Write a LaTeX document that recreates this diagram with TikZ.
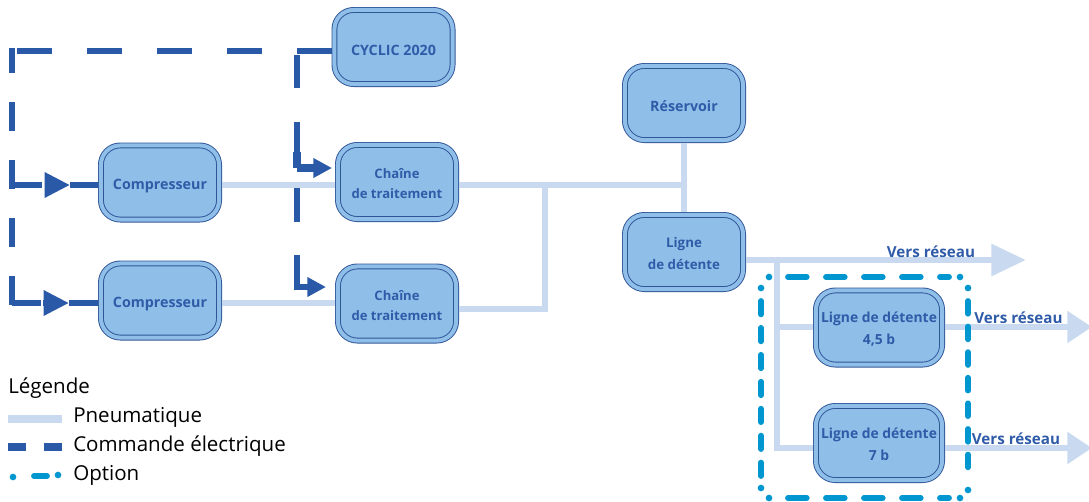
\documentclass[tikz,border=0pt]{standalone}
\usepackage{fontspec}
\setmainfont{Open Sans}
\usetikzlibrary{arrows.meta,calc}
\definecolor{pneu}{HTML}{C9DAF0}
\definecolor{elec}{HTML}{2A59A8}
\definecolor{opt}{HTML}{0096D0}
\definecolor{boxfill}{HTML}{8FBFE8}
\definecolor{boxline}{HTML}{2F5597}
\definecolor{boxtext}{HTML}{2F5BA8}
\newcommand\twoL[2]{\rule{0pt}{21.8pt}\renewcommand\arraystretch{1.05}\begin{tabular}{@{}c@{}}#1\\#2\end{tabular}}
\tikzset{
  unit/.style={draw=boxline,line width=0.7pt,double=boxfill,double distance=3pt,fill=boxfill,
    rounded corners=14.5pt,outer sep=2.2pt,minimum width=88.6pt,minimum height=55.6pt,inner sep=0pt,
    text=boxtext,font=\fontsize{10.7}{14.6}\selectfont\bfseries,
    execute at begin node={\rule{0pt}{13pt}}},
  chainunit/.style={unit,font=\fontsize{9.8}{14.4}\selectfont\bfseries},
  detunit/.style={unit,font=\fontsize{10}{15.6}\selectfont\bfseries},
  wideunit/.style={unit,minimum width=94.6pt,font=\fontsize{10.4}{15.6}\selectfont\bfseries},
  pneuline/.style={draw=pneu,line width=5.2pt},
  pneuarrow/.style={pneuline,-{Triangle[length=26pt,width=23pt]}},
  pneuarrowb/.style={pneuline,-{Triangle[length=18.5pt,width=23pt]}},
  elecline/.style={draw=elec,line width=4.6pt},
  elecarrow/.style={elecline,-{Triangle[length=19pt,width=18pt]}},
  elecsmall/.style={elecline,-{Triangle[length=14pt,width=14pt]}},
  optline/.style={draw=opt,line width=4.4pt,line cap=round},
  optdot/.style={circle,fill=opt,minimum size=5pt,inner sep=0pt},
  nettext/.style={text=boxtext,font=\fontsize{11.4}{13}\selectfont\bfseries,inner sep=0pt},
  legtext/.style={anchor=west,text=black,font=\fontsize{15.4}{17}\selectfont,inner sep=0pt}
}
\begin{document}
\begin{tikzpicture}[x=0.75pt,y=-0.75pt]
\useasboundingbox (0,0) rectangle (1089,501);
% free coordinates
\coordinate (yA) at (0,51);
\coordinate (yB) at (0,185);
\coordinate (yC) at (0,303);
\coordinate (yD) at (0,309);
\coordinate (yE) at (0,260);
\coordinate (yF) at (0,327);
\coordinate (yG) at (0,448);
\coordinate (xL) at (12,0);
\coordinate (xR) at (297,0);
\coordinate (xJ) at (545,0);
\coordinate (xB) at (777,0);
\coordinate (endNet) at (1026,260);
\coordinate (endF) at (1092,327);
\coordinate (endG) at (1092,448);
% boxes (positions only)
\node[unit] (cyc) at (393.5,47) {CYCLIC 2020};
\node[unit] (comp1) at (160,182.5) {Compresseur};
\node[unit] (comp2) at (160,300.5) {Compresseur};
\node[chainunit] (ch1) at (397,182) {\twoL{Chaîne}{de traitement}};
\node[chainunit] (ch2) at (397,303.5) {\twoL{Chaîne}{de traitement}};
\node[unit] (res) at (684,103) {Réservoir};
\node[detunit] (det) at (684,252) {\twoL{Ligne}{de détente}};
\node[wideunit] (d45) at (879,327.5) {\twoL{Ligne de détente}{4,5 b}};
\node[wideunit] (d7) at (879,443) {\twoL{Ligne de détente}{7 b}};
% pneumatic
\draw[pneuline] (comp1.east |- yB) -- (ch1.west |- yB);
\draw[pneuline] (comp2.east |- yC) -- (ch2.west |- yC);
\draw[pneuline] (ch1.east |- yB) -- (res.south |- yB);
\draw[pneuline] (res.south) -- (det.north);
\draw[pneuline] (ch2.east |- yD) -- (xJ |- yD) -- (xJ |- yB);
\draw[pneuarrow] (det.east |- yE) -- (endNet);
\draw[pneuline] (xB |- yE) -- (xB |- yG) -- (d7.west |- yG);
\draw[pneuline] (xB |- yF) -- (d45.west |- yF);
\draw[pneuarrowb] (d45.east |- yF) -- (endF);
\draw[pneuarrowb] (d7.east |- yG) -- (endG);
% electric
\draw[elecline,dash pattern=on 26.25pt off 26.25pt] (cyc.west |- yA) -- (xL |- yA);
\draw[elecline,dash pattern=on 21.75pt off 21.75pt,dash phase=3pt] ($(xL |- yA)+(0,-3)$) -- ($(xL |- yC)+(0,3)$);
\draw[elecline] (xL |- yB) -- ($(xL |- yB)+(30,0)$);
\draw[elecarrow] ($(xL |- yB)+(33,0)$) -- ($(xL |- yB)+(58,0)$);
\draw[elecline] ($(xL |- yB)+(58,0)$) -- (comp1.west |- yB);
\draw[elecline] (xL |- yC) -- ($(xL |- yC)+(29,0)$);
\draw[elecarrow] ($(xL |- yC)+(31,0)$) -- ($(xL |- yC)+(57,0)$);
\draw[elecline] ($(xL |- yC)+(57,0)$) -- (comp2.west |- yC);
\draw[elecline,dash pattern=on 25pt off 25pt] ($(xR |- yA)+(0,4)$) -- ($(xR |- yC)+(0,-13)$);
\coordinate (tA) at (332,168);
\coordinate (tB) at (326,287);
\draw[elecline,line width=6.5pt] (xR |- 0,152) -- (xR |- tA);
\draw[elecsmall,line width=6pt] (xR |- tA) -- (tA);
\draw[elecsmall] ($(xR |- tB)+(0,3)$) -- (xR |- tB) -- (tB);
% option frame
\draw[optline,dash pattern=on 14pt off 14.5pt] (788,277) -- (949,277);
\draw[optline,dash pattern=on 14pt off 14.5pt] (788,498) -- (949,498);
\draw[optline,dash pattern=on 10pt off 10.2pt] (761,301) -- (761,478);
\draw[optline,dash pattern=on 9.5pt off 9.7pt] (968,301) -- (968,480);
\foreach \n/\p in {a/{769,277},b/{960,277},c/{761,288},d/{968,288},e/{761,488},f/{968,490},g/{769,498},h/{960,498}}
  \node[optdot] (dot\n) at (\p) {};
% network labels
\node[nettext] (n1) at (931,252) {Vers réseau};
\node[nettext] (n2) at (1018.5,318) {Vers réseau};
\node[nettext] (n3) at (1016,439) {Vers réseau};
% legend
\node[legtext] (lg) at (8,388.5) {Légende};
\node[legtext] (l1) at (73,417.5) {Pneumatique};
\node[legtext] (l2) at (73,446.5) {Commande électrique};
\node[legtext] (l3) at (73,475.5) {Option};
\coordinate (a1) at (8,419); \coordinate (a2) at (62,419);
\coordinate (b1) at (8,447); \coordinate (b2) at (62,447);
\draw[pneu,line width=6.5pt] (a1) -- (a2);
\draw[elec,line width=6pt,dash pattern=on 13.5pt off 13.5pt] (b1) -- (b2);
\coordinate (c1) at (34,476); \coordinate (c2) at (47,476);
\draw[optline] (c1) -- (c2);
\node[optdot] (ld1) at (13,477) {};
\node[optdot] (ld2) at (58,475) {};
\end{tikzpicture}
\end{document}
